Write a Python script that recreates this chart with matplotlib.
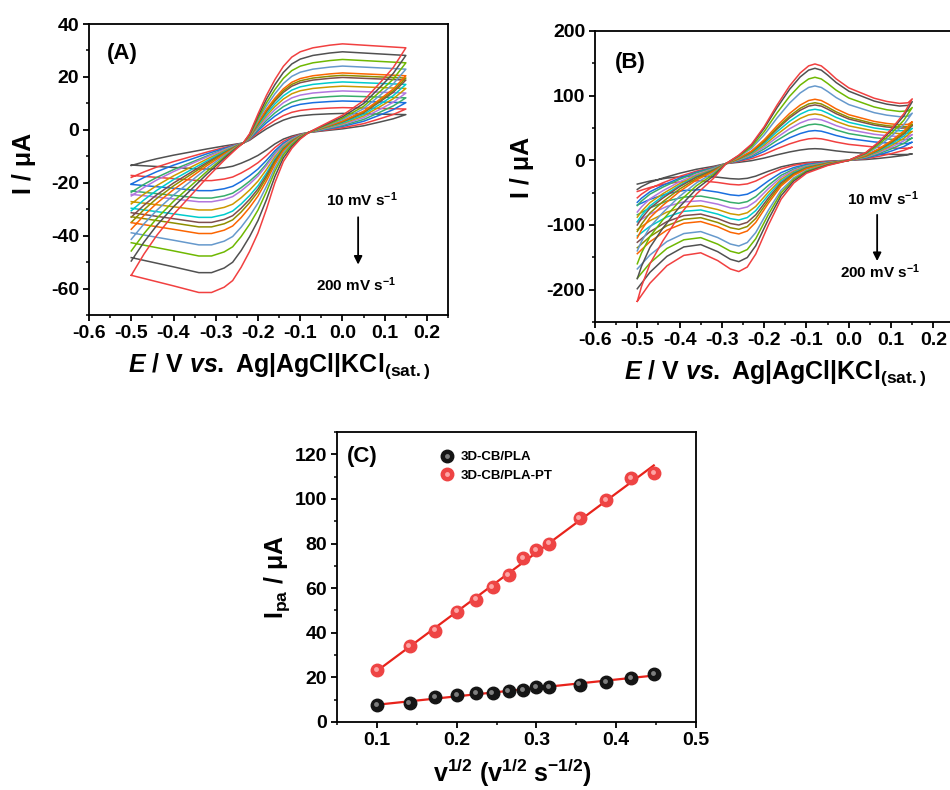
"""
Cyclic voltammograms at 10-200 mV/s for two electrodes, plus the
Randles-Sevcik plot of anodic peak current vs sqrt(scan rate).
"""

import numpy as np
import matplotlib.pyplot as plt
from matplotlib.ticker import MultipleLocator
from matplotlib.transforms import offset_copy
from matplotlib.legend_handler import HandlerTuple

# ----------------------------------------------------------------------
# Data
# ----------------------------------------------------------------------
scan_rates = [10, 20, 30, 40, 50, 60, 70, 80, 90, 100, 125, 150, 175, 200]
colors = ["#515151", "#F14040", "#1A6FDF", "#37AD6B", "#B177DE", "#CC9900",
          "#00CBCC", "#7D4E4E", "#8E8E00", "#FB6501", "#6699CC", "#6FB802",
          "#515151", "#F14040"]

# (A) outermost voltammogram (200 mV/s), anodic then cathodic sweep
A_fwd_E = [-0.50, -0.47, -0.44, -0.40, -0.36, -0.32, -0.28, -0.25, -0.235, -0.22,
           -0.20, -0.18, -0.16, -0.14, -0.12, -0.10, -0.07, -0.03, 0.00, 0.05,
           0.10, 0.15]
A_fwd_I = [-55, -47, -40, -32, -25, -18, -11.5, -7, -5, -1.5,
           6, 13, 19, 24, 27.5, 29.5, 31, 32, 32.5, 32,
           31.5, 31]
A_rev_E = [0.15, 0.12, 0.09, 0.05, 0.00, -0.05, -0.08, -0.10, -0.12, -0.14,
           -0.16, -0.18, -0.20, -0.22, -0.24, -0.26, -0.28, -0.31, -0.34, -0.40,
           -0.45, -0.50]
A_rev_I = [31, 23.5, 18, 11, 5.5, 1.5, -1, -3.5, -7, -12,
           -20, -30, -39, -46, -52, -57, -59.5, -61.5, -61.5, -59,
           -57, -55]
# (A) per scan rate: anodic plateau, cathodic plateau, current at -0.5 V
A_ipa = [6.2, 8.4, 10.9, 12.8, 14.7, 16.5, 18.1, 19.8, 20.6, 21.5, 24.1, 26.6, 29.5, 32.5]
A_ipc = [-14.8, -19.2, -23.0, -25.8, -27.2, -30.3, -33.1, -35.0, -36.7, -39.2,
         -43.5, -47.7, -54.0, -61.5]
A_start = [-13.5, -18, -20.5, -23.6, -25, -28, -30.6, -33, -35, -37.6,
           -41.4, -45.8, -49.6, -55]

# (B) outermost voltammogram (200 mV/s)
B_fwd_E = [-0.50, -0.49, -0.47, -0.44, -0.40, -0.36, -0.32, -0.29, -0.26, -0.23,
           -0.20, -0.17, -0.14, -0.115, -0.095, -0.08, -0.065, -0.05, -0.03, 0.00,
           0.03, 0.06, 0.09, 0.12, 0.14, 0.15]
B_fwd_I = [-218, -195, -160, -125, -85, -52, -28, -5, 8, 25,
           52, 85, 115, 135, 146, 149, 146, 138, 126, 112,
           104, 96, 91, 88, 89, 95]
B_rev_E = [0.15, 0.13, 0.10, 0.07, 0.04, 0.00, -0.05, -0.10, -0.13, -0.16,
           -0.19, -0.22, -0.24, -0.26, -0.28, -0.31, -0.35, -0.39, -0.43, -0.47,
           -0.50]
B_rev_I = [95, 72, 48, 28, 12, 0, -8, -20, -35, -60,
           -100, -145, -165, -172, -168, -155, -143, -147, -163, -190,
           -218]
# (B) per scan rate: anodic peak, cathodic peak, current at -0.5 V
B_ipa = [18, 34, 46, 56, 64, 71.7, 78.9, 85.6, 89, 94.4, 115, 128.4, 142.3, 149]
B_ipc = [-29, -38, -54.6, -66.5, -75.2, -84.5, -92.3, -100, -106.7, -113.9,
         -132.5, -143.8, -156.7, -172]
B_start = [-45, -58, -65, -70, -80, -88, -95, -100, -110, -120,
           -140, -160, -183, -218]

# (C) anodic peak current vs v^1/2
sqrt_v = [0.100, 0.141, 0.173, 0.200, 0.224, 0.245, 0.265, 0.283, 0.300, 0.316,
          0.354, 0.387, 0.418, 0.447]
ipa_cb = [7.6, 8.6, 11.0, 12.0, 12.8, 13.1, 14.0, 14.3, 15.5, 15.8,
          16.8, 18.0, 19.8, 21.3]
ipa_pt = [23.2, 33.9, 41.0, 49.5, 54.9, 60.4, 65.9, 73.5, 77.0, 80.0,
          91.6, 99.5, 109.2, 111.7]

# ----------------------------------------------------------------------
# Style
# ----------------------------------------------------------------------
plt.rcParams.update({
    "font.family": ["Liberation Sans", "DejaVu Sans"],
    "font.weight": "bold",
    "axes.labelweight": "bold",
    "axes.unicode_minus": False,
    "mathtext.fontset": "custom",
    "mathtext.rm": "Liberation Sans:bold",
    "mathtext.it": "Liberation Sans:italic:bold",
    "mathtext.bf": "Liberation Sans:bold",
    "mathtext.sf": "Liberation Sans:bold",
    "mathtext.default": "rm",
    "axes.linewidth": 1.3,
    "xtick.direction": "out",
    "ytick.direction": "out",
    "xtick.major.size": 4,
    "ytick.major.size": 4,
    "xtick.minor.size": 2.2,
    "ytick.minor.size": 2.2,
    "xtick.major.width": 1.3,
    "ytick.major.width": 1.3,
    "xtick.minor.width": 1.1,
    "ytick.minor.width": 1.1,
    "xtick.labelsize": 14,
    "ytick.labelsize": 14,
})

ELABEL = r"$\mathit{E}$ / V $\mathit{vs.}$ Ag|AgCl|KCl$_{\mathregular{(sat.)}}$"


def rescale(I_t, pivot, ref_hi, hi, ref_lo, lo):
    """Stretch the template about the pivot current, separately above/below."""
    I_t = np.asarray(I_t, dtype=float)
    up = pivot + (I_t - pivot) * (hi - pivot) / (ref_hi - pivot)
    dn = pivot + (I_t - pivot) * (lo - pivot) / (ref_lo - pivot)
    return np.where(I_t >= pivot, up, dn)


def draw_cvs(ax, fwd_E, fwd_I, rev_E, rev_I, ipa, ipc, start, p_fwd, p_rev):
    # the last scan rate is the template curve itself
    for k in range(len(scan_rates)):
        f = rescale(fwd_I, p_fwd, ipa[-1], ipa[k], start[-1], start[k])
        r = rescale(rev_I, p_rev, rev_I[0], f[-1], ipc[-1], ipc[k])
        ax.plot(np.r_[fwd_E, rev_E], np.r_[f, r], color=colors[k], lw=1.1)


def style_cv(ax):
    ax.set_xlim(-0.6, 0.25)
    ax.xaxis.set_major_locator(MultipleLocator(0.1))
    ax.xaxis.set_minor_locator(MultipleLocator(0.05))
    ax.tick_params(top=False, right=False, pad=3)
    ax.xaxis.set_major_formatter(plt.FuncFormatter(lambda v, _: f"{v:.1f}"))


fig = plt.figure(figsize=(9.5, 7.9), dpi=100)

# ----------------------------------------------------------------------
# (A)
# ----------------------------------------------------------------------
axA = fig.add_axes([0.0937, 0.6013, 0.378, 0.3683])
draw_cvs(axA, A_fwd_E, A_fwd_I, A_rev_E, A_rev_I, A_ipa, A_ipc, A_start, -5, -1)
style_cv(axA)
axA.set_ylim(-70, 40)
axA.yaxis.set_major_locator(MultipleLocator(20))
axA.yaxis.set_minor_locator(MultipleLocator(10))
axA.set_ylabel("I / μA", fontsize=18)
axA.yaxis.set_label_coords(-0.148, 0.52)
axA.set_xlabel(ELABEL, fontsize=18)
axA.xaxis.set_label_coords(0.53, -0.125)
axA.text(0.05, 0.90, "(A)", transform=axA.transAxes, fontsize=16, va="center")
axA.annotate("", xy=(0.037, -52), xytext=(0.037, -32),
             arrowprops=dict(arrowstyle="-|>", color="black", lw=1.3, mutation_scale=12))
axA.text(0.046, -26.4, r"10 mV s$^{-1}$", fontsize=11, ha="center", va="center")
axA.text(0.032, -58.5, r"200 mV s$^{-1}$", fontsize=11, ha="center", va="center")

# ----------------------------------------------------------------------
# (B) -- right edge runs off the figure, as in the source
# ----------------------------------------------------------------------
axB = fig.add_axes([0.6263, 0.5924, 0.3785, 0.3684])
draw_cvs(axB, B_fwd_E, B_fwd_I, B_rev_E, B_rev_I, B_ipa, B_ipc, B_start, -5, 0)
style_cv(axB)
axB.set_ylim(-250, 200)
axB.yaxis.set_major_locator(MultipleLocator(100))
axB.yaxis.set_minor_locator(MultipleLocator(50))
axB.set_ylabel("I / μA", fontsize=18)
axB.yaxis.set_label_coords(-0.17, 0.53)
axB.set_xlabel(ELABEL, fontsize=18)
axB.xaxis.set_label_coords(0.50, -0.125)
axB.text(0.056, 0.893, "(B)", transform=axB.transAxes, fontsize=16, va="center")
axB.annotate("", xy=(0.067, -160), xytext=(0.067, -80),
             arrowprops=dict(arrowstyle="-|>", color="black", lw=1.3, mutation_scale=12))
axB.text(0.081, -60, r"10 mV s$^{-1}$", fontsize=11, ha="center", va="center")
axB.text(0.074, -172, r"200 mV s$^{-1}$", fontsize=11, ha="center", va="center")

# ----------------------------------------------------------------------
# (C) Ipa vs v^1/2 with linear fits
# ----------------------------------------------------------------------
axC = fig.add_axes([0.3547, 0.0861, 0.378, 0.3671])
hl = offset_copy(axC.transData, fig=fig, x=-0.8, y=0.8, units="points")
handles = []
for y, base, shine in [(ipa_cb, "#151515", "#8a8a8a"), (ipa_pt, "#EE4444", "#FFB0B0")]:
    slope, icpt = np.polyfit(sqrt_v, y, 1)
    xs = np.array([sqrt_v[0], sqrt_v[-1]])
    axC.plot(xs, slope * xs + icpt, color="#E8231B", lw=1.6, zorder=1)
    h1, = axC.plot(sqrt_v, y, "o", ms=9, mfc=base, mec=base, zorder=2)
    h2, = axC.plot(sqrt_v, y, "o", ms=3.5, mfc=shine, mec="none", alpha=0.9,
                   transform=hl, zorder=3)
    handles.append((h1, h2))

axC.set_xlim(0.05, 0.5)
axC.set_ylim(0, 130)
axC.xaxis.set_major_locator(MultipleLocator(0.1))
axC.xaxis.set_minor_locator(MultipleLocator(0.05))
axC.yaxis.set_major_locator(MultipleLocator(20))
axC.yaxis.set_minor_locator(MultipleLocator(10))
axC.tick_params(top=False, right=False, pad=3)
axC.set_ylabel(r"I$_{\mathregular{pa}}$ / μA", fontsize=18)
axC.yaxis.set_label_coords(-0.125, 0.5)
axC.set_xlabel(r"v$^{1/2}$ (v$^{1/2}$ s$^{-1/2}$)", fontsize=18)
axC.xaxis.set_label_coords(0.49, -0.12)
axC.text(0.028, 0.917, "(C)", transform=axC.transAxes, fontsize=16, va="center")
axC.legend(handles, ["3D-CB/PLA", "3D-CB/PLA-PT"],
           handler_map={tuple: HandlerTuple(ndivide=1)},
           loc="upper left", bbox_to_anchor=(0.25, 0.975), frameon=False,
           fontsize=9.5, handlelength=1.2, handletextpad=0.5, labelspacing=0.45)

fig.savefig("out.png", dpi=100)
